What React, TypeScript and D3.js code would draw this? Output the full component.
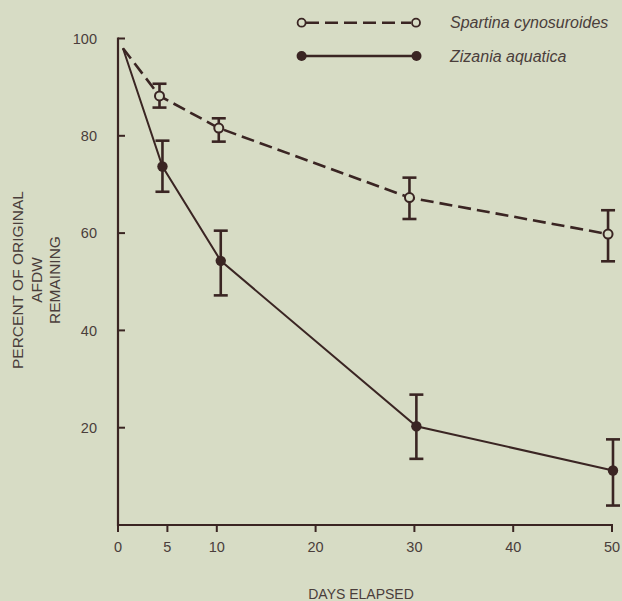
import React from 'react';
import * as d3 from 'd3';

// values (days, percent remaining, error bar ends)
const spartinaDays = [0.5, 4.2, 10.2, 29.5, 49.6];
const spartinaValues = [98, 88.2, 81.6, 67.3, 59.8];
const spartinaHigh = [null, 90.7, 83.6, 71.4, 64.7];
const spartinaLow = [null, 85.8, 78.8, 62.9, 54.2];

const zizaniaDays = [0.5, 4.5, 10.4, 30.2, 50.1];
const zizaniaValues = [98, 73.7, 54.3, 20.3, 11.2];
const zizaniaHigh = [null, 79.0, 60.5, 26.8, 17.6];
const zizaniaLow = [null, 68.5, 47.2, 13.6, 4.0];

const xTicks = [0, 5, 10, 20, 30, 40, 50];
const yTicks = [20, 40, 60, 80, 100];

const legendNames = ['Spartina cynosuroides', 'Zizania aquatica'];
const yTitleLines = ['PERCENT OF ORIGINAL', 'AFDW', 'REMAINING'];
const xTitle = 'DAYS ELAPSED';

const W = 622;
const H = 601;
const ink = '#3a2523';
const textColor = '#4a3e3b';
const bg = '#d7dcc5';
const font = '"Liberation Sans", Arial, sans-serif';

const App = () => {
  const x = d3.scaleLinear().domain([0, 50]).range([118, 612]);
  const y = d3.scaleLinear().domain([0, 100]).range([525, 38.5]);

  const path = (days: number[], vals: number[]) =>
    d3.line<number>().x((d, i) => x(days[i])).y((d) => y(d))(vals) || '';

  const errorBars = (days: number[], hi: (number | null)[], lo: (number | null)[], key: string) =>
    days.map((d, i) => {
      if (hi[i] == null || lo[i] == null) return null;
      const cx = x(d);
      return (
        <g key={key + i} stroke={ink} strokeWidth={2.6}>
          <line x1={cx} x2={cx} y1={y(hi[i] as number)} y2={y(lo[i] as number)} />
          <line x1={cx - 7} x2={cx + 7} y1={y(hi[i] as number)} y2={y(hi[i] as number)} />
          <line x1={cx - 7} x2={cx + 7} y1={y(lo[i] as number)} y2={y(lo[i] as number)} />
        </g>
      );
    });

  const x0 = x(0);
  const y0 = y(0);

  return (
    <div style={{ position: 'absolute', left: 0, top: 0 }}>
      <svg width={W} height={H} style={{ display: 'block', background: bg }}>
        <rect width={W} height={H} fill={bg} />

        {/* axes */}
        <line x1={x0} x2={x0} y1={y(100) - 1} y2={y0 + 1} stroke={ink} strokeWidth={2.2} />
        <line x1={x0} x2={x(50) + 1} y1={y0} y2={y0} stroke={ink} strokeWidth={2.2} />
        {yTicks.map((t) => (
          <g key={'y' + t}>
            <line x1={x0} x2={x0 + 7} y1={y(t)} y2={y(t)} stroke={ink} strokeWidth={2} />
            <text x={97} y={y(t)} dy="0.36em" textAnchor="end" fontSize={14.5}
              fontFamily={font} fill={textColor}>{t}</text>
          </g>
        ))}
        {xTicks.map((t) => (
          <g key={'x' + t}>
            <line x1={x(t)} x2={x(t)} y1={y0} y2={y0 + 7} stroke={ink} strokeWidth={2} />
            <text x={x(t)} y={551.5} textAnchor="middle" fontSize={14.5}
              fontFamily={font} fill={textColor}>{t}</text>
          </g>
        ))}

        {/* axis titles */}
        <g transform="translate(0,280) rotate(-90)">
          {yTitleLines.map((s, i) => (
            <text key={s} x={0} y={23 + i * 18.5} textAnchor="middle" fontSize={15.5}
              fontFamily={font} fill={textColor}>{s}</text>
          ))}
        </g>
        <text x={361} y={599} textAnchor="middle" fontSize={14} fontFamily={font}
          fill={textColor}>{xTitle}</text>

        {/* series */}
        {errorBars(spartinaDays, spartinaHigh, spartinaLow, 's')}
        {errorBars(zizaniaDays, zizaniaHigh, zizaniaLow, 'z')}
        <path d={path(spartinaDays, spartinaValues)} fill="none" stroke={ink}
          strokeWidth={2.6} strokeDasharray="13,6" />
        <path d={path(zizaniaDays, zizaniaValues)} fill="none" stroke={ink} strokeWidth={2} />
        {spartinaDays.slice(1).map((d, i) => (
          <circle key={'sc' + i} cx={x(d)} cy={y(spartinaValues[i + 1])} r={4.5}
            fill={bg} stroke={ink} strokeWidth={2} />
        ))}
        {zizaniaDays.slice(1).map((d, i) => (
          <circle key={'zc' + i} cx={x(d)} cy={y(zizaniaValues[i + 1])} r={5.2} fill={ink} />
        ))}

        {/* legend */}
        <g>
          <line x1={306} x2={411} y1={22.7} y2={22.7} stroke={ink} strokeWidth={2.6}
            strokeDasharray="13,6" />
          <circle cx={301.6} cy={22.7} r={4} fill={bg} stroke={ink} strokeWidth={1.8} />
          <circle cx={416} cy={22.7} r={4} fill={bg} stroke={ink} strokeWidth={1.8} />
          <text x={450} y={22.7} dy="0.36em" fontSize={16} fontStyle="italic"
            fontFamily={font} fill={textColor}>{legendNames[0]}</text>

          <line x1={302} x2={416} y1={56} y2={56} stroke={ink} strokeWidth={2.4} />
          <circle cx={301.6} cy={56} r={5} fill={ink} />
          <circle cx={416.5} cy={56} r={5} fill={ink} />
          <text x={450} y={56} dy="0.36em" fontSize={16} fontStyle="italic"
            fontFamily={font} fill={textColor}>{legendNames[1]}</text>
        </g>
      </svg>
    </div>
  );
};

export default App;
